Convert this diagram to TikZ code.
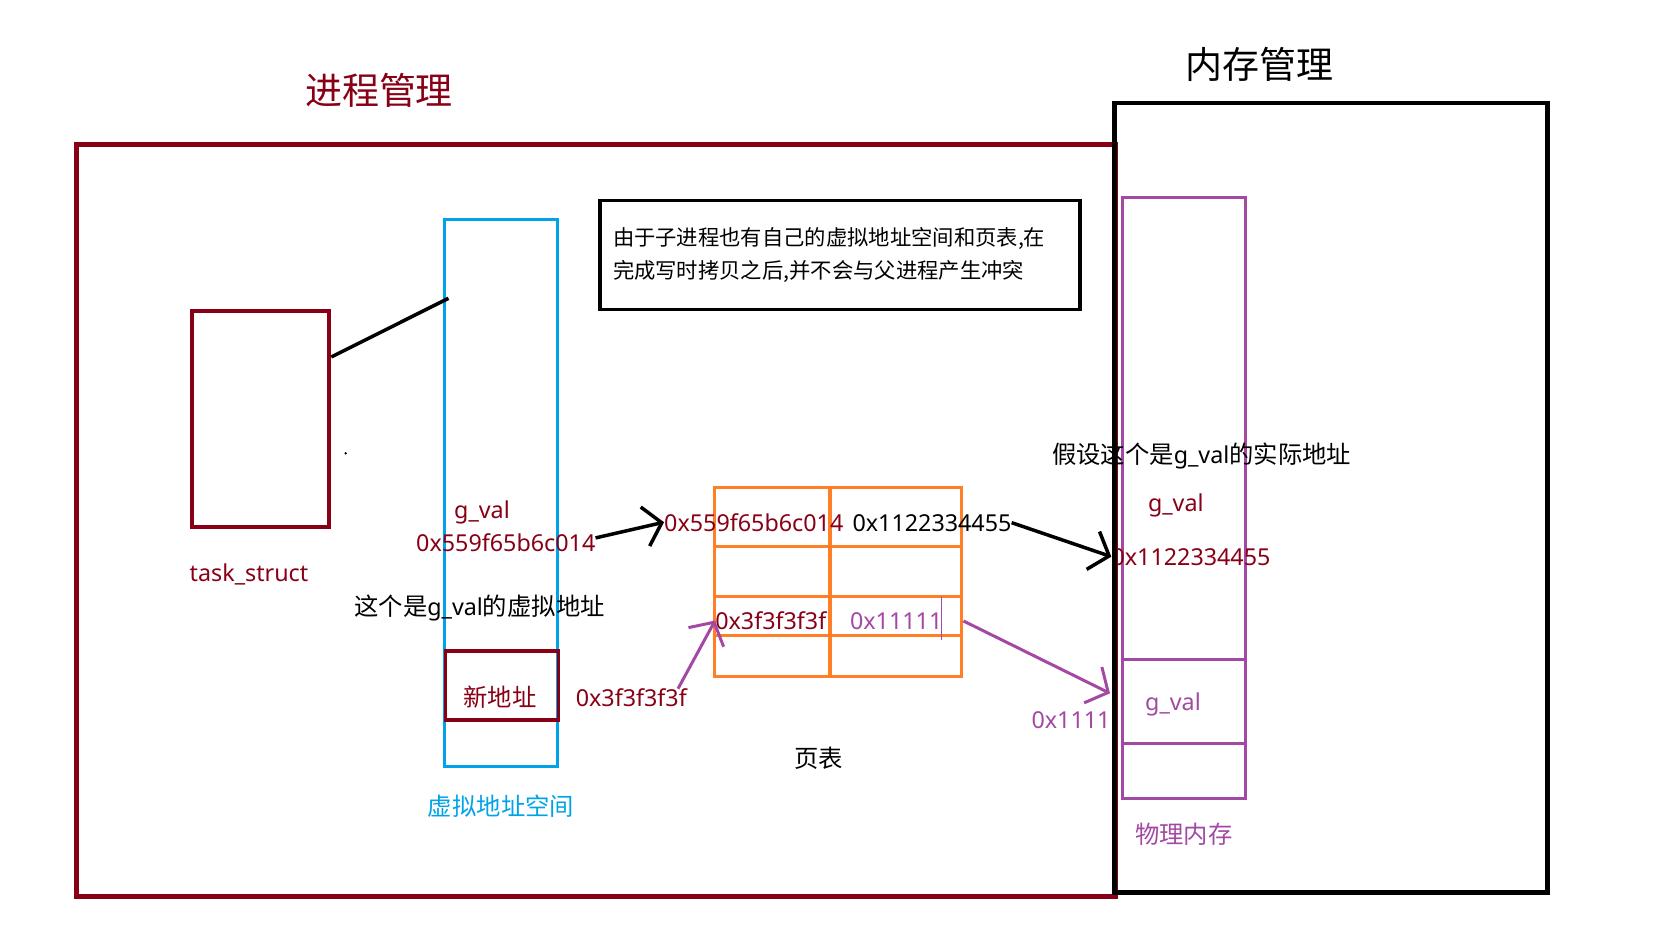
\documentclass[tikz,border=0pt]{standalone}
\usepackage{fontspec}
\setmainfont{Noto Sans}
\newfontfamily\cjk{Noto Sans CJK SC}[Scale=1.045]
\usetikzlibrary{positioning,arrows.meta}
\definecolor{procred}{HTML}{880015}
\definecolor{vblue}{HTML}{00A2E8}
\definecolor{torange}{HTML}{FF7F27}
\definecolor{mpurple}{HTML}{A349A4}

\begin{document}
\begin{tikzpicture}[
  x=1pt, y=-1pt,
  outline/.style={rectangle, draw=#1, inner sep=0pt},
  headline/.style={inner sep=0pt, font=\fontsize{35.4}{40}\selectfont\cjk},
  tag/.style={inner sep=0pt, font=\fontsize{23.3}{28}\selectfont},
  ctag/.style={inner sep=0pt, font=\fontsize{23.3}{28}\selectfont\cjk},
  tline/.style={draw=torange, line width=3.5pt},
  mline/.style={draw=mpurple, line width=3pt},
  arr/.style={line width=3.5pt, -{Straight Barb[length=17pt,width=40pt]}},
  parr/.style={draw=mpurple, line width=3pt, -{Straight Barb[length=17pt,width=40pt]}}
  ]
  \useasboundingbox (0,0) rectangle (1669,935);

  \node[outline=procred, line width=5pt, minimum width=1039pt, minimum height=751.6pt] (procfr) at (596,520.5) {};
  \node[headline, text=procred] (proctitle) at (379,90.5) {进程管理};
  \node[headline] (memtitle) at (1259.8,64.7) {内存管理};

  \node[outline=procred, line width=4pt, minimum width=137.6pt, minimum height=215.7pt] (task) at (260.5,418.8) {};
  \node[tag, text=procred, anchor=base] (tasklbl) at (249,581) {task\_struct};
  \fill (345.7,453.3) circle (1.3pt);

  \node[outline=vblue, line width=3.5pt, minimum width=113pt, minimum height=547.4pt] (vspace) at (501,493) {};
  \node[ctag, text=vblue, below=26pt of vspace] (vspacelbl) {虚拟地址空间};
  \coordinate (vlink) at (448.5,298.3);
  \draw[line width=3.5pt] ([yshift=-48pt]task.north east) -- (vlink);

  \node[tag, text=procred, anchor=base] (vgval) at (482,518.3) {g\_val};
  \node[tag, text=procred, anchor=base] (vaddr) at (505.8,551.7) {0x559f65b6c014};
  \node[tag] (vnote) at (479.5,608) {{\cjk 这个是}g\_val{\cjk 的虚拟地址}};
  \node[outline=procred, line width=3.5pt, minimum width=113pt, minimum height=69pt] (newaddr) at (502,685.5) {};
  \node[ctag, text=procred] (newaddrlbl) at (500,696.7) {新地址};
  \node[tag, text=procred, anchor=base] (naddr) at (631.3,706.7) {0x3f3f3f3f};

  \node[outline=black, line width=3.5pt, minimum width=480pt, minimum height=108.6pt,
    text width=454pt, align=left, font=\fontsize{20.4}{33}\selectfont\cjk] (note) at (840,255)
    {由于子进程也有自己的虚拟地址空间和页表,在\\完成写时拷贝之后,并不会与父进程产生冲突};

  \node[outline=torange, line width=3.5pt, minimum width=247.4pt, minimum height=189pt] (tbl) at (838,582.2) {};
  \foreach \ry in {546.7,596.7,635.7}
    \draw[tline] (tbl.west |- 0,\ry) -- (tbl.east |- 0,\ry);
  \draw[tline] (tbl.north -| 830,0) -- (tbl.south -| 830,0);
  \node[tag, text=procred, anchor=base] (pv1) at (753.8,531) {0x559f65b6c014};
  \node[tag, anchor=base] (pp1) at (932,531) {0x1122334455};
  \node[tag, text=procred, anchor=base] (pv2) at (770.8,629.3) {0x3f3f3f3f};
  \node[tag, text=mpurple, anchor=base] (pp2) at (896.2,629.3) {0x11111};
  \draw[mpurple, line width=0.8pt] (941.7,596.7) -- (941.7,640);
  \node[ctag] (tbllbl) at (818.5,758) {页表};

  \node[outline=mpurple, line width=3pt, minimum width=123.5pt, minimum height=601pt] (phys) at (1183.75,497.8) {};
  \foreach \ry in {659.3,743.3}
    \draw[mline] (phys.west |- 0,\ry) -- (phys.east |- 0,\ry);
  \node[ctag, text=mpurple, below=23pt of phys] (physlbl) {物理内存};
  \node[tag] (realnote) at (1201.6,455.5) {{\cjk 假设这个是}g\_val{\cjk 的实际地址}};
  \node[tag, text=procred, anchor=base] (pgval) at (1175.8,511) {g\_val};
  \node[tag, text=procred, anchor=base] (phys1) at (1191,565) {0x1122334455};
  \node[tag, text=mpurple, anchor=base] (pgval2) at (1173,710) {g\_val};
  \node[tag, text=mpurple, anchor=base] (paddr2) at (1071,728.3) {0x1111};
  \coordinate (pmtip) at (1110,693.3);

  \node[outline=black, line width=4.5pt, minimum width=433pt, minimum height=789.3pt] (memfr) at (1331,497.65) {};

  \draw[arr] ([yshift=5pt]vaddr.east) -- (pv1.west);
  \draw[arr] (pp1.east) -- (phys1.west);
  \draw[parr] ([xshift=-9pt]naddr.north east) -- (pv2.west);
  \draw[parr] (tbl.east |- pp2) -- (pmtip);
\end{tikzpicture}
\end{document}
